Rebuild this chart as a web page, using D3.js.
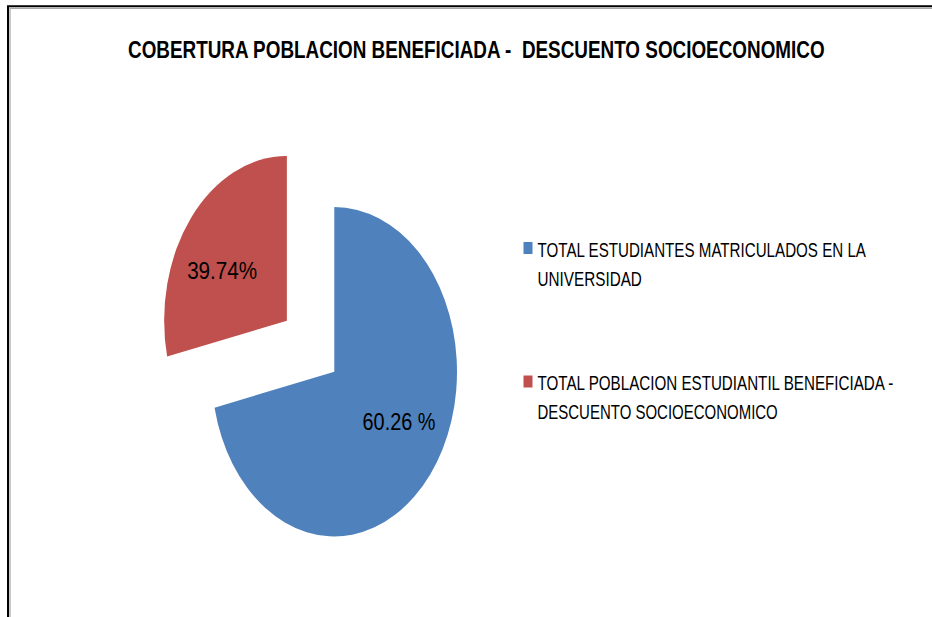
<!DOCTYPE html>
<html>
<head>
<meta charset="utf-8">
<script src="https://cdn.jsdelivr.net/npm/d3@7"></script>
<style>
  body { margin: 0; background: #fff; }
  svg text { font-family: "Liberation Sans Narrow", "Liberation Sans", Arial, sans-serif; fill: #000; }
</style>
</head>
<body>
<svg id="chart"></svg>
<script>
// Chart data
const title = "COBERTURA POBLACION BENEFICIADA -  DESCUENTO SOCIOECONOMICO";
const categories = [
    "TOTAL ESTUDIANTES MATRICULADOS EN LA UNIVERSIDAD",
    "TOTAL POBLACION ESTUDIANTIL BENEFICIADA - DESCUENTO SOCIOECONOMICO"
];
// share of the circle each slice covers
const sliceShares = [71.5, 28.5];
// data labels as printed on the slices
const dataLabels = ["60.26 %", "39.74%"];
// legend entries broken the way the picture wraps them
const legendLines = [
    ["TOTAL ESTUDIANTES MATRICULADOS EN LA", "UNIVERSIDAD"],
    ["TOTAL POBLACION ESTUDIANTIL BENEFICIADA -", "DESCUENTO SOCIOECONOMICO"]
];
const colors = ["#4F81BD", "#C0504D"];

const width = 932;
const height = 617;

const svg = d3.select("#chart")
    .attr("width", width)
    .attr("height", height);

// squeeze a text horizontally so it spans the given width (the picture uses a narrow font)
function fitText(sel, x, y, w, anchor) {
    const natural = sel.node().getComputedTextLength();
    const k = Math.min(1, w / natural);
    const left = anchor === "middle" ? x - w / 2 : x;
    sel.attr("x", 0).attr("y", 0)
        .attr("text-anchor", "start")
        .attr("transform", `translate(${left},${y}) scale(${k},1)`);
    return sel;
}

// Frame (top-left corner of the chart area)
svg.append("path")
    .attr("d", `M8,${height} V6.3 H${width}`)
    .attr("fill", "none")
    .attr("stroke", "#000")
    .attr("stroke-width", 2);
svg.append("path")
    .attr("d", `M10,${height} V8.3 H${width}`)
    .attr("fill", "none")
    .attr("stroke", "#a6a6a6")
    .attr("stroke-width", 1.2);

// Title
const titleText = svg.append("text")
    .attr("font-size", 23)
    .attr("font-weight", "bold")
    .style("white-space", "pre")
    .text(title);
fitText(titleText, 128, 58, 697);

// Pie (drawn as a circle then squeezed horizontally, like the picture)
const radius = 164.7;
const squeeze = 0.745;
const explode = 81.6;
const center = { x: 334.3, y: 371.7 };

const pie = d3.pie().sort(null).value(d => d);
const arcs = pie(sliceShares);

const arc = d3.arc().innerRadius(0).outerRadius(radius);

const pieGroup = svg.append("g")
    .attr("transform", `translate(${center.x},${center.y}) scale(${squeeze},1)`);

// Only the second slice is pulled out
const offsetOf = (d, i) => {
    if (i !== 1) return [0, 0];
    const mid = (d.startAngle + d.endAngle) / 2;
    return [Math.sin(mid) * explode, -Math.cos(mid) * explode];
};

pieGroup.selectAll("path.slice")
    .data(arcs)
    .enter()
    .append("path")
    .attr("class", "slice")
    .attr("d", arc)
    .attr("transform", (d, i) => {
        const o = offsetOf(d, i);
        return `translate(${o[0]},${o[1]})`;
    })
    .attr("fill", (d, i) => colors[i]);

// Data labels (best-fit position, a little counter-clockwise of the middle)
const labelRadius = 100;
const labelTurn = -9 * Math.PI / 180;
arcs.forEach((d, i) => {
    const o = offsetOf(d, i);
    const a = (d.startAngle + d.endAngle) / 2 + labelTurn;
    const lx = center.x + (o[0] + Math.sin(a) * labelRadius) * squeeze;
    const ly = center.y + o[1] - Math.cos(a) * labelRadius;
    const t = svg.append("text")
        .attr("dy", "0.36em")
        .attr("font-size", 23)
        .text(dataLabels[i]);
    fitText(t, lx, ly, i === 0 ? 73 : 70, "middle");
});

// Legend
const legendX = 523.5;
const legendTops = [242, 375.5];
const lineGap = 29;
const lineLengths = [[328.7, 104.4], [356, 240.4]];

const legend = svg.append("g").attr("class", "legend");
categories.forEach((c, i) => {
    const g = legend.append("g").attr("transform", `translate(${legendX},${legendTops[i]})`);
    g.append("rect")
        .attr("width", 9)
        .attr("height", 12)
        .attr("fill", colors[i]);
    legendLines[i].forEach((line, j) => {
        const t = g.append("text")
            .attr("font-size", 21)
            .text(line);
        fitText(t, 14, 14.8 + j * lineGap, lineLengths[i][j]);
    });
});
</script>
</body>
</html>
